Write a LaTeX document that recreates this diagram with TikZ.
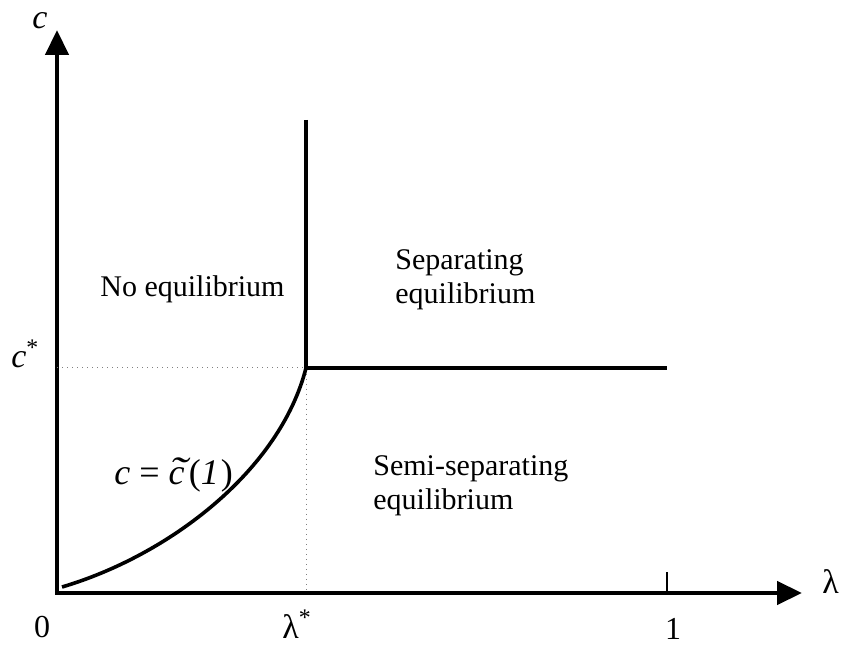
\documentclass[tikz,border=0pt]{standalone}
\usepackage{fontspec}
\setmainfont{Liberation Serif}
\usetikzlibrary{arrows.meta}
\newcommand\ctilde{\textit{\makebox[0pt][l]{\hspace{0.02em}\raisebox{0.02em}{\scalebox{1.5}[1.1]{\char"02DC}}}c}}

\begin{document}
\begin{tikzpicture}[
  x=0.5pt, y=-0.5pt,
  font=\fontsize{15pt}{17pt}\selectfont,
  axis/.style={line width=2.2pt, line join=miter, {Triangle[length=12.5pt, width=11.5pt]}-{Triangle[length=12.5pt, width=11.5pt]}},
  bound/.style={line width=2pt},
  guide/.style={line width=0.5pt, gray, dotted},
  lbl/.style={inner sep=0pt, align=left}
]
\useasboundingbox (0,0) rectangle (846,646);
% axes and key points
\coordinate (O) at (57,593);
\coordinate (ytip) at (57,30);
\coordinate (xtip) at (802,593);
\coordinate (K) at (306,368);
\coordinate (Ktop) at (306,120);
\coordinate (Kend) at (667,368);
\coordinate (cs) at (57,368);
\coordinate (ls) at (306,593);
\coordinate (one) at (667,593);
\coordinate (onetick) at (667,572);
\coordinate (start) at (62,587);
\draw[axis] (ytip) -- (O) -- (xtip);
\draw[line width=0.6pt] (one) -- (onetick);
\draw[guide] (cs) -- (K) -- (ls);
\draw[bound] (Ktop) -- (K) -- (Kend);
\draw[line width=1.8pt] (start) .. controls (170,555) and (280,470) .. (K);
% labels
\node[lbl, font=\fontsize{17pt}{17pt}\selectfont] (lc) at (40,21) {\textit{c}};
\node[lbl, font=\fontsize{17pt}{17pt}\selectfont, anchor=base west] (lcs) at (11,368) {\textit{c}\textsuperscript{*}};
\node[lbl, font=\fontsize{16pt}{16pt}\selectfont] (l0) at (42,627) {0};
\node[lbl, font=\fontsize{17pt}{17pt}\selectfont, anchor=base west] (lls) at (282,638) {λ\textsuperscript{*}};
\node[lbl, font=\fontsize{16pt}{16pt}\selectfont] (l1) at (673,629) {1};
\node[lbl, font=\fontsize{17pt}{17pt}\selectfont, anchor=base west] (ll) at (822,593) {λ};
\node[lbl, anchor=base west] (noeq) at (100,297) {No equilibrium};
\node[lbl, anchor=west] (sep) at (395,280) {Separating\\equilibrium};
\node[lbl, anchor=west] (semi) at (373,486) {Semi-separating\\equilibrium};
\node[lbl, font=\fontsize{18pt}{18pt}\selectfont, anchor=base west] (curve) at (114,485) {\textit{c} = \ctilde\kern0.12em(\textit{1}\kern0.05em)};
\end{tikzpicture}
\end{document}
